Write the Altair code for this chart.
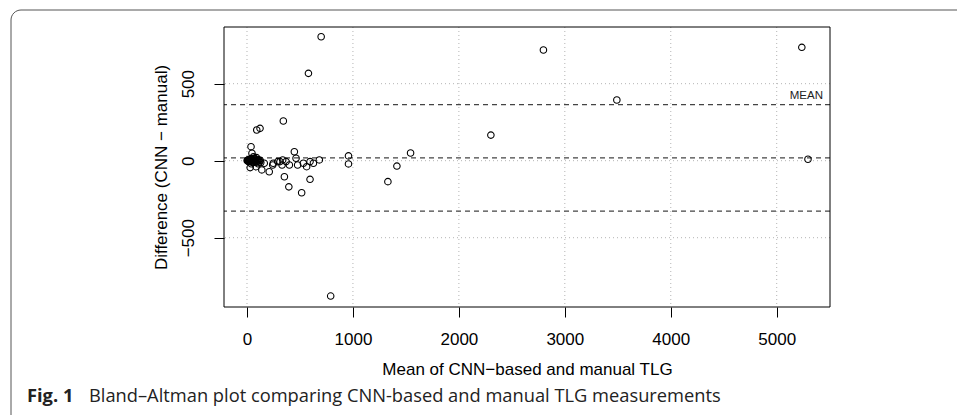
import altair as alt
import pandas as pd

# ---- data ----
mean_tlg = [700, 580, 2798, 5237, 3491, 343, 123, 92, 2302, 1544, 958, 958, 5295, 1330, 1415, 790,
            38, 47, 30, 85, 140, 210, 163, 243, 290, 337, 369, 331, 447, 463, 478, 400, 353, 395,
            516, 595, 532, 563, 595, 627, 683, 248, 311,
            2, 5, 8, 10, 12, 15, 18, 20, 25, 30, 33, 38, 42, 45, 50, 55, 60, 65, 70, 75, 80, 88,
            95, 100, 110, 118, 125, 60, 40, 90, 105, 130]
diff_tlg = [805, 567, 719, 736, 394, 258, 210, 199, 166, 50, 31, -21, 9, -136, -35, -879,
            91, 48, -45, -39, -60, -72, -17, -28, -6, 5, -6, -28, 58, 16, -28, -28, -104, -170,
            -208, -121, -17, -39, -6, -17, 5, -17, -6,
            0, 3, -2, 5, -4, 1, 8, -6, 2, 10, -3, 4, -8, 12, 0, -12, 6, -3, 15, -5, 3, -10,
            8, -2, 5, -8, 2, 25, -20, 20, -20, -12]
bias = 18
upper_loa = 364
lower_loa = -328
x_ticks = [0, 1000, 2000, 3000, 4000, 5000]
y_ticks = [-500, 0, 500]
mean_label = ["MEAN"]
caption_bold = ["Fig. 1"]
caption_text = ["Bland\u2013Altman plot comparing CNN-based and manual TLG measurements"]

df = pd.DataFrame({"m": mean_tlg, "d": diff_tlg})
lines_df = pd.DataFrame({"d": [upper_loa, bias, lower_loa]})
label_df = pd.DataFrame({"m": [5437], "d": [399], "t": mean_label})
xgrid_df = pd.DataFrame({"m": x_ticks})
ygrid_df = pd.DataFrame({"d": y_ticks})

W, H = 606, 280
xs = alt.Scale(domain=[-217, 5503], nice=False, zero=False)
ys = alt.Scale(domain=[-950, 868], nice=False, zero=False)

FONT = "Liberation Sans"

outer = alt.Chart(pd.DataFrame({"k": [0]})).mark_rect(
    cornerRadius=10, fillOpacity=0, stroke="#555", strokeWidth=1
).encode(
    x=alt.value(-213), x2=alt.value(760), y=alt.value(-17), y2=alt.value(430)
)

xgrid = alt.Chart(xgrid_df).mark_rule(
    color="#b4b4b4", strokeDash=[1, 3], strokeWidth=1
).encode(x=alt.X("m:Q", scale=xs))

ygrid = alt.Chart(ygrid_df).mark_rule(
    color="#b4b4b4", strokeDash=[1, 3], strokeWidth=1
).encode(y=alt.Y("d:Q", scale=ys))

hlines = alt.Chart(lines_df).mark_rule(
    strokeDash=[5, 4], color="#444", strokeWidth=1.2
).encode(y=alt.Y("d:Q", scale=ys))

plotbox = alt.Chart(pd.DataFrame({"k": [0]})).mark_rect(
    fillOpacity=0, stroke="black", strokeWidth=1
).encode(x=alt.value(0), x2=alt.value(W), y=alt.value(0), y2=alt.value(H))

points = alt.Chart(df).mark_point(
    shape="circle", filled=False, color="black", size=42, strokeWidth=1.1, opacity=1
).encode(
    x=alt.X("m:Q", scale=xs, axis=alt.Axis(
        values=x_ticks, title="Mean of CNN\u2212based and manual TLG",
        labelBaseline="alphabetic", labelPadding=27.5,
        titleX=W / 2, titleY=67, titleAlign="center", titleBaseline="alphabetic",
        format="d")),
    y=alt.Y("d:Q", scale=ys, axis=alt.Axis(
        values=y_ticks, title="Difference (CNN \u2212 manual)",
        labelAngle=270, labelAlign="center", labelBaseline="alphabetic", labelPadding=21,
        titleAngle=270, titleX=-57.5, titleY=H / 2, titleAlign="center",
        titleBaseline="alphabetic", format="d")),
)

mean_txt = alt.Chart(label_df).mark_text(
    align="right", baseline="alphabetic", font=FONT, fontSize=11.5, color="#222"
).encode(x=alt.X("m:Q", scale=xs), y=alt.Y("d:Q", scale=ys), text="t:N")

cap1 = alt.Chart(pd.DataFrame({"t": caption_bold})).mark_text(
    align="left", baseline="alphabetic", font="Open Sans", fontSize=18.3, fontWeight="bold", color="#222"
).encode(x=alt.value(27 - 224), y=alt.value(402 - 27), text="t:N")

cap2 = alt.Chart(pd.DataFrame({"t": caption_text})).mark_text(
    align="left", baseline="alphabetic", font="Open Sans", fontSize=18.3, color="#222"
).encode(x=alt.value(89 - 224), y=alt.value(402 - 27), text="t:N")

chart = alt.layer(outer, xgrid, ygrid, hlines, plotbox, points, mean_txt, cap1, cap2).properties(
    width=W, height=H,
    autosize="none",
    padding={"left": 224, "top": 27, "right": 127, "bottom": 108},
    background="white",
).configure_view(
    stroke=None
).configure_axis(
    labelFont=FONT, labelFontSize=17, labelColor="black",
    titleFont=FONT, titleFontSize=17, titleFontWeight="normal", titleColor="black",
    tickColor="black", tickSize=10, tickWidth=1, domain=False, grid=False,
)

chart.save("out.html", embed_options={"renderer": "svg", "actions": False})
